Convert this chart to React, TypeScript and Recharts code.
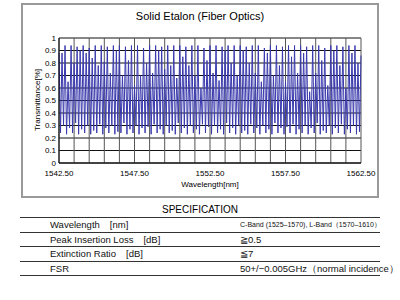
import { LineChart, Line, XAxis, YAxis, CartesianGrid } from 'recharts';

// sampled every 0.1 nm from 1542.50 nm
const startNm = 1542.5;
const stepNm = 0.1;

// tall peaks (every 0.4 nm)
const tallPeaks = [
  0.88, 0.94, 0.94, 0.93, 0.94, 0.92, 0.94, 0.94, 0.93, 0.94,
  0.94, 0.93, 0.94, 0.94, 0.92, 0.94, 0.94, 0.93, 0.94, 0.94,
  0.94, 0.93, 0.94, 0.94, 0.92, 0.94, 0.94, 0.93, 0.94, 0.94,
  0.94, 0.93, 0.94, 0.94, 0.92, 0.94, 0.94, 0.93, 0.94, 0.94,
  0.94, 0.93, 0.94, 0.94, 0.92, 0.94, 0.94, 0.93, 0.94, 0.94,
  0.86,
];

// the lower peaks in between
const midPeaks = [
  0.88, 0.65, 0.8, 0.9, 0.88, 0.84, 0.78, 0.81, 0.72, 0.9,
  0.7, 0.82, 0.62, 0.7, 0.8, 0.72, 0.9, 0.75, 0.78, 0.68,
  0.85, 0.78, 0.7, 0.6, 0.82, 0.72, 0.66, 0.9, 0.8, 0.7,
  0.9, 0.8, 0.72, 0.65, 0.88, 0.7, 0.78, 0.65, 0.85, 0.72,
  0.88, 0.57, 0.72, 0.82, 0.62, 0.9, 0.78, 0.6, 0.88, 0.8,
];

const troughs = [
  0.24, 0.3, 0.23, 0.28, 0.24, 0.32, 0.23, 0.27, 0.24, 0.3,
  0.23, 0.26, 0.24, 0.31, 0.23, 0.28, 0.24, 0.3, 0.23, 0.25,
  0.24, 0.32, 0.23, 0.27, 0.24, 0.3, 0.23, 0.28, 0.24, 0.29,
  0.23, 0.31, 0.24, 0.27, 0.23, 0.3, 0.24, 0.26, 0.23, 0.32,
  0.24, 0.28, 0.23, 0.3, 0.24, 0.27, 0.23, 0.31, 0.24, 0.29,
  0.23, 0.3, 0.24, 0.27, 0.23, 0.32, 0.24, 0.28, 0.23, 0.3,
  0.24, 0.26, 0.23, 0.31, 0.24, 0.28, 0.23, 0.3, 0.24, 0.27,
  0.23, 0.32, 0.24, 0.28, 0.23, 0.29, 0.24, 0.31, 0.23, 0.27,
  0.24, 0.3, 0.23, 0.28, 0.24, 0.32, 0.23, 0.26, 0.24, 0.3,
  0.23, 0.28, 0.24, 0.31, 0.23, 0.27, 0.24, 0.3, 0.23, 0.25,
];

const xTicks = [
  1542.5, 1543.5, 1544.5, 1545.5, 1546.5, 1547.5, 1548.5, 1549.5, 1550.5, 1551.5,
  1552.5, 1553.5, 1554.5, 1555.5, 1556.5, 1557.5, 1558.5, 1559.5, 1560.5, 1561.5,
  1562.5,
];
const xLabels = ['1542.50', '1547.50', '1552.50', '1557.50', '1562.50'];
const yTicks = [0, 0.1, 0.2, 0.3, 0.4, 0.5, 0.6, 0.7, 0.8, 0.9, 1];

const specLabels = ['Wavelength\u3000[nm]', 'Peak Insertion Loss\u3000[dB]', 'Extinction Ratio\u3000[dB]', 'FSR'];
const specValues = [
  'C-Band (1525\u20131570), L-Band\uFF081570\u20131610\uFF09',
  '\u22670.5',
  '\u22667',
  '50+/\u22120.005GHz\uFF08normal incidence\uFF09',
];

const data: { wl: number; t: number }[] = [];
for (let i = 0; i <= 200; i++) {
  let t: number;
  if (i % 2 === 1) t = troughs[(i - 1) / 2];
  else if (i % 4 === 0) t = tallPeaks[i / 4];
  else t = midPeaks[(i - 2) / 4];
  data.push({ wl: Math.round((startNm + i * stepNm) * 10) / 10, t });
}

const font = '"Liberation Sans", Arial, sans-serif';
const tickStyle = { fontSize: 8, fill: '#000', fontFamily: font };

export default function App() {
  return (
    <div style={{ position: 'absolute', left: 0, top: 0, width: 400, height: 300, background: '#fff', fontFamily: font }}>
      <div style={{ position: 'absolute', left: 21, top: 3, width: 358, height: 195, boxSizing: 'border-box', border: '2px solid #9a9a9a' }} />
      <div style={{ position: 'absolute', left: 0, top: 9, width: 400, textAlign: 'center', fontSize: 11, lineHeight: '14px' }}>
        Solid Etalon (Fiber Optics)
      </div>
      <div style={{ position: 'absolute', left: 0, top: 0 }}>
        <LineChart width={400} height={200} data={data} margin={{ top: 38, right: 39, bottom: 12, left: 0 }}>
          <CartesianGrid vertical={false} stroke="#111" strokeOpacity={1} />
          <CartesianGrid horizontal={false} stroke="#555" strokeOpacity={1} />
          <XAxis
            dataKey="wl"
            type="number"
            domain={[1542.5, 1562.5]}
            ticks={xTicks}
            interval={0}
            height={25}
            tickLine={false}
            tickSize={5}
            tickMargin={2}
            axisLine={{ stroke: '#000' }}
            tick={tickStyle}
            tickFormatter={(v: number) => xLabels.find((l) => parseFloat(l) === v) ?? ''}
          />
          <YAxis
            type="number"
            domain={[0, 1]}
            ticks={yTicks}
            interval={0}
            width={59}
            tickLine={false}
            tickSize={2}
            tickMargin={1}
            axisLine={{ stroke: '#000' }}
            tick={tickStyle}
            tickFormatter={(v: number) => (v === 0 ? '0' : v === 1 ? '1' : v.toFixed(1))}
          />
          <Line type="linear" dataKey="t" stroke="#3a3aae" strokeWidth={1} dot={false} isAnimationActive={false} />
        </LineChart>
      </div>
      <div style={{ position: 'absolute', left: 160, top: 180, width: 100, textAlign: 'center', fontSize: 8 }}>
        Wavelength[nm]
      </div>
      <div
        style={{
          position: 'absolute', left: 37, top: 100, fontSize: 8, whiteSpace: 'nowrap',
          transform: 'translate(-50%, -50%) rotate(-90deg)',
        }}
      >
        Transmittance[%]
      </div>
      <div style={{ position: 'absolute', left: 0, top: 204, width: 400, textAlign: 'center', fontSize: 10, lineHeight: '12px' }}>
        SPECIFICATION
      </div>
      <div style={{ position: 'absolute', left: 20, top: 217, width: 360, borderTop: '1px solid #333' }}>
        {specLabels.map((label, i) => (
          <div key={label} style={{ position: 'relative', height: 13.5, borderBottom: '1px solid #333', fontSize: 9.5, lineHeight: '13.5px', whiteSpace: 'pre', color: '#111' }}>
            <span style={{ position: 'absolute', left: 30 }}>{label}</span>
            <span style={{ position: 'absolute', left: 220, fontSize: i === 0 ? 7 : 9.5 }}>{specValues[i]}</span>
          </div>
        ))}
      </div>
    </div>
  );
}
